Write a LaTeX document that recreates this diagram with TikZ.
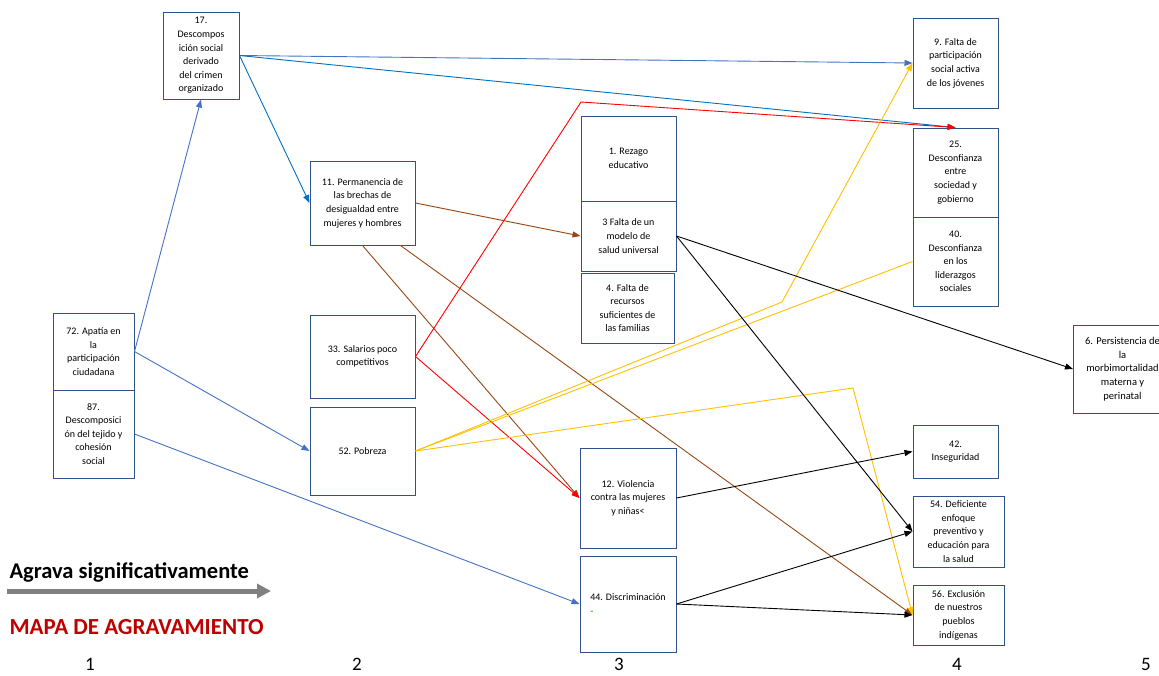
\documentclass[tikz,border=0pt]{standalone}
\usepackage{fontspec}
\setmainfont{Carlito}
\definecolor{boxblue}{RGB}{47,82,143}
\definecolor{linkblue}{RGB}{68,114,196}
\definecolor{darkblue}{RGB}{0,112,192}
\definecolor{linkbrown}{RGB}{150,72,20}
\definecolor{linkyellow}{RGB}{255,192,0}
\definecolor{titlered}{RGB}{192,0,0}
\definecolor{arrowgray}{RGB}{128,128,128}
\usetikzlibrary{arrows.meta}

\tikzset{
  box/.style={draw=boxblue, line width=1pt, fill=white, align=center, inner sep=2pt, font=\fontsize{10}{13.6}\selectfont},
  link/.style={-{Triangle[length=8pt,width=6pt]}, line width=0.9pt},
  colnum/.style={font=\fontsize{19}{22}\selectfont},
}

\begin{document}
\begin{tikzpicture}[x=1pt,y=-1pt]
    \useasboundingbox (0,0) rectangle (1159,675);

    \node[box, minimum width=76pt, minimum height=87pt] (d17) at (201,55.5) {17.\\Descompos\\ición social\\derivado\\del crimen\\organizado};
    \node[box, minimum width=105pt, minimum height=84pt] (d11) at (362.5,203) {11. Permanencia de\\las brechas de\\desigualdad entre\\mujeres y hombres};
    \node[box, minimum width=81pt, minimum height=77pt] (d72) at (93.5,351.5) {72. Apatía en\\la\\participación\\ciudadana};
    \node[box, minimum width=81pt, minimum height=88pt] (d87) at (93.5,434) {87.\\Descomposici\\ón del tejido y\\cohesión\\social};
    \node[box, minimum width=105pt, minimum height=83pt] (d33) at (362.5,356.5) {33. Salarios poco\\competitivos};
    \node[box, minimum width=105pt, minimum height=88pt] (d52) at (362.5,451) {52. Pobreza};

    \node[box, minimum width=95pt, minimum height=85pt] (d1) at (628.5,158.5) {1. Rezago\\educativo};
    \node[box, minimum width=95pt, minimum height=70pt] (d3) at (628.5,236) {3 Falta de un\\modelo de\\salud universal};
    \node[box, minimum width=93pt, minimum height=70pt] (d4) at (627.5,308) {4. Falta de\\recursos\\suficientes de\\las familias};
    \node[box, minimum width=96pt, minimum height=100pt] (d12) at (628,498) {12. Violencia\\contra las mujeres\\y niñas<};
    \node[box, minimum width=96pt, minimum height=96pt, align=left] (d44) at (628,604) {44. Discriminación\\{\color{green!50!black}-}};

    \node[box, minimum width=85pt, minimum height=90pt] (d9) at (955.5,63) {9. Falta de\\participación\\social activa\\de los jóvenes};
    \node[box, minimum width=85pt, minimum height=89pt] (d25) at (955.5,172.5) {25.\\Desconfianza\\entre\\sociedad y\\gobierno};
    \node[box, minimum width=85pt, minimum height=89pt] (d40) at (955.5,261.5) {40.\\Desconfianza\\en los\\liderazgos\\sociales};
    \node[box, minimum width=85pt, minimum height=53pt] (d42) at (955.5,451.5) {42.\\Inseguridad};
    \node[box, minimum width=91pt, minimum height=71pt] (d54) at (958.5,531.5) {54. Deficiente\\enfoque\\preventivo y\\educación para\\la salud};
    \node[box, minimum width=91pt, minimum height=60pt] (d56) at (958.5,615) {56. Exclusión\\de nuestros\\pueblos\\indígenas};
    \node[box, anchor=west, minimum width=98pt, minimum height=88pt, font=\fontsize{10.5}{13.6}\selectfont] (d6) at (1073,369) {6. Persistencia de\\la\\morbimortalidad\\materna y\\perinatal};

    \coordinate (r1) at (581,102);
    \coordinate (y1) at (782,302);
    \coordinate (y2) at (853,388);

    \draw[link, linkblue] (d72.east) -- (d17.south);
    \draw[link, linkblue] (d72.east) -- (d52.west);
    \draw[link, linkblue] (d87.east) -- (d44.west);
    \draw[link, darkblue] (d17.east) -- (d11.west);
    \draw[link, linkblue] (d17.east) -- (d9.west);
    \draw[link, darkblue] (d17.east) -- (d25.north);

    \draw[link, linkbrown] (d11.east) -- (d3.west);
    \draw[link, linkbrown] (d11.south) -- (d12.west);
    \draw[link, linkbrown] ([xshift=38pt]d11.south) -- (d56.west);

    \draw[link, red] (d33.east) -- (r1) -- (d25.north);
    \draw[link, red] (d33.east) -- (d12.west);

    \draw[link, linkyellow] (d52.east) -- (y1) -- (d9.west);
    \draw[linkyellow, line width=0.9pt] (d52.east) -- (d40.west);
    \draw[link, linkyellow] (d52.east) -- (y2) -- (d56.west);

    \draw[link] (d3.east) -- (d6.west);
    \draw[link] (d3.east) -- (d54.west);
    \draw[link] (d12.east) -- (d42.west);
    \draw[link] (d44.east) -- (d54.west);
    \draw[link] (d44.east) -- (d56.west);

    \node[anchor=west, font=\fontsize{22.5}{26}\selectfont\bfseries] (agrava) at (6,572) {Agrava significativamente};
    \coordinate (gs) at (7,591);
    \coordinate (ge) at (271,591);
    \draw[arrowgray, line width=5pt, -{Triangle[length=14pt,width=14pt]}] (gs) -- (ge);
    \node[anchor=west, text=titlered, font=\fontsize{23}{26}\selectfont\bfseries] (mapa) at (6,627) {MAPA DE AGRAVAMIENTO};

    \node[colnum] (c1) at (90,664) {1};
    \node[colnum] (c2) at (357,664) {2};
    \node[colnum] (c3) at (619,664) {3};
    \node[colnum] (c4) at (957,664) {4};
    \node[colnum] (c5) at (1146,664) {5};
\end{tikzpicture}
\end{document}
